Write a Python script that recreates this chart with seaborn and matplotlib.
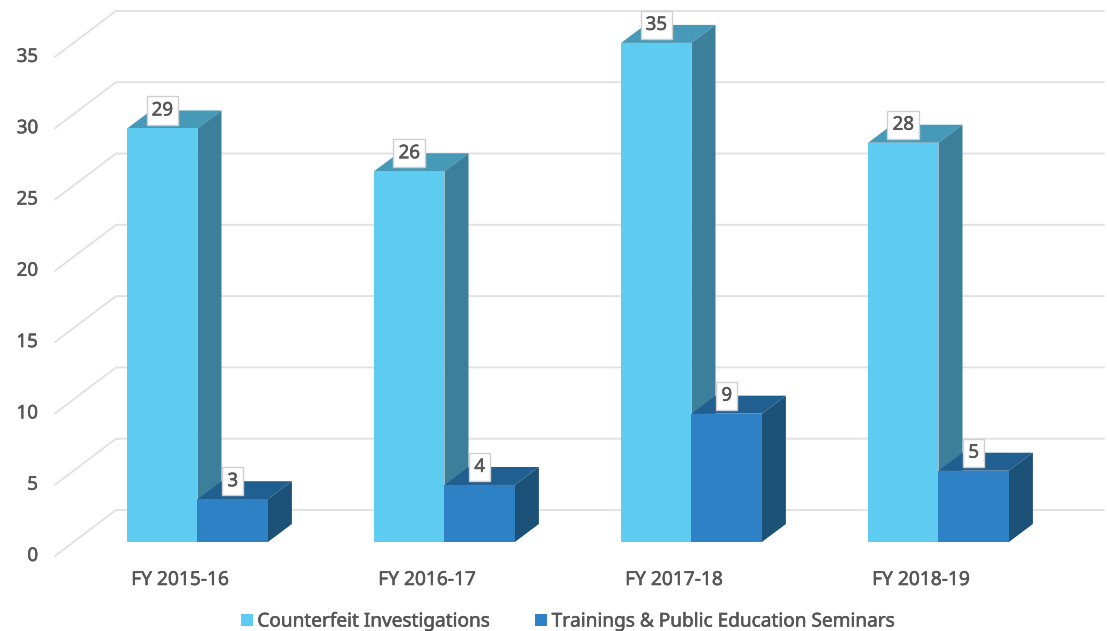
import matplotlib
matplotlib.use("Agg")
import matplotlib.pyplot as plt
import matplotlib.patheffects as pe
import pandas as pd
import seaborn as sns
from matplotlib.patches import Polygon

years = ["FY 2015-16", "FY 2016-17", "FY 2017-18", "FY 2018-19"]
investigations = [29, 26, 35, 28]
seminars = [3, 4, 9, 5]
series_names = ["Counterfeit Investigations", "Trainings & Public Education Seminars"]
y_ticks = [0, 5, 10, 15, 20, 25, 30, 35]

front_colors = ["#5ECBF0", "#2E81C4"]
top_colors = ["#4799B8", "#215F90"]
side_colors = ["#3B7F9B", "#1C5178"]
text_color = "#565656"
grid_color = "#E2E2E2"

# scale of the picture: pixels per category and per unit
px_x = 247.0
px_y = 14.26
x0_px = 197.5
y0_px = 542
W, H = 1107, 631

depth_x = 24 / px_x
depth_y = 18 / px_y

df = pd.DataFrame({
    "year": years * 2,
    "series": [series_names[0]] * 4 + [series_names[1]] * 4,
    "value": investigations + seminars,
})

sns.set_theme(style="white")
plt.rcParams["font.family"] = ["Noto Sans", "DejaVu Sans"]

fig = plt.figure(figsize=(W / 100, H / 100), dpi=100)
ax = fig.add_axes([0, 0, 1, 1])

sns.barplot(data=df, x="year", y="value", hue="series", hue_order=series_names,
            palette=front_colors, saturation=1, width=0.57, gap=0, linewidth=0,
            zorder=3, ax=ax)

ax.set_xlim(-x0_px / px_x, (W - x0_px) / px_x)
ax.set_ylim((y0_px - H) / px_y, y0_px / px_y)
ax.axis("off")


def to_x(px):
    return (px - x0_px) / px_x


def to_y(py):
    return (y0_px - py) / px_y


# back wall grid and the diagonals on the left
for v in y_ticks:
    back = to_y(510) + v
    front = to_y(556) + v
    ax.plot([to_x(55), to_x(116), to_x(1104)], [front, back, back],
            color=grid_color, lw=1.4, zorder=1, solid_joinstyle="miter")
    ax.text(to_x(38), front, str(v), ha="right", va="center", fontsize=13.5, color=text_color)

# depth faces, taken from the bars seaborn drew
for s, container in enumerate(ax.containers):
    for bar in container:
        x1 = bar.get_x()
        x2 = x1 + bar.get_width()
        h = bar.get_height()
        top = [(x1, h), (x2, h), (x2 + depth_x, h + depth_y), (x1 + depth_x, h + depth_y)]
        side = [(x2, 0), (x2 + depth_x, depth_y), (x2 + depth_x, h + depth_y), (x2, h)]
        ax.add_patch(Polygon(top, closed=True, fc=top_colors[s], ec="none", zorder=2 + s * 2))
        ax.add_patch(Polygon(side, closed=True, fc=side_colors[s], ec="none", zorder=2 + s * 2))
        bar.set_zorder(3 + s * 2)
        ax.text(x1 + bar.get_width() / 2, h + 18 / px_y, f"{h:.0f}", ha="center", va="center",
                fontsize=13.5, color=text_color, zorder=10,
                bbox=dict(boxstyle="square,pad=0.27", fc="white", ec="#CFCFCF", lw=1))

for i, label in enumerate(years):
    ax.text(i - 17.5 / px_x, to_y(580), label, ha="center", va="center",
            fontsize=13.8, color=text_color)

handles, labels = ax.get_legend_handles_labels()
leg = ax.legend(handles, labels, loc="lower center", bbox_to_anchor=(0.513, -0.028), ncol=2,
                frameon=False, fontsize=13.7, handlelength=0.62, handleheight=0.62,
                handletextpad=0.25, columnspacing=2.4, labelcolor=text_color)

# the original font is a bit heavier, thicken the strokes slightly
for t in ax.texts + leg.get_texts():
    t.set_path_effects([pe.withStroke(linewidth=0.4, foreground=text_color)])

fig.savefig("out.png", dpi=100)
